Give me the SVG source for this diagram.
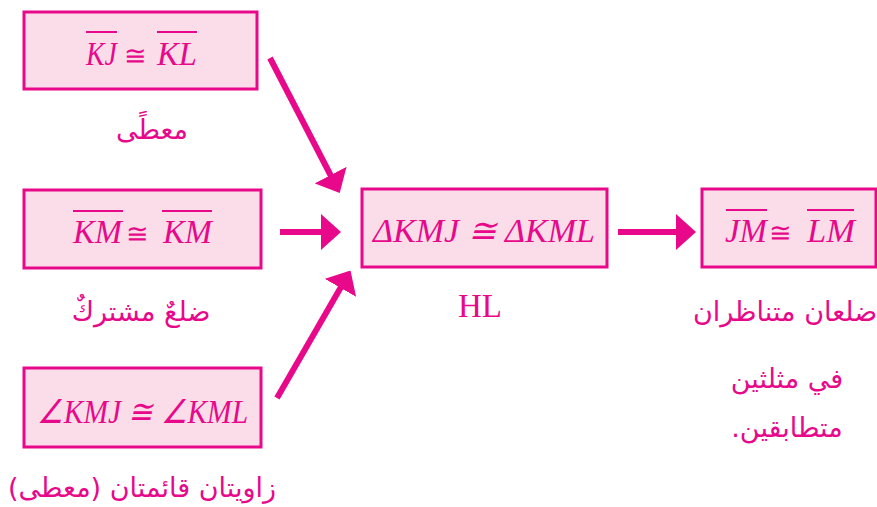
<svg xmlns="http://www.w3.org/2000/svg" width="877" height="507" viewBox="0 0 877 507">
<style>
.box{fill:#fbdde9;stroke:#e8088a;stroke-width:3}
.m{font-family:"Liberation Serif",serif;font-style:italic;font-size:33px;fill:#e8088a;text-anchor:middle}
.u{font-family:"Liberation Serif",serif;font-size:33px;fill:#e8088a;text-anchor:middle}
.eq{font-family:"DejaVu Serif",serif;font-size:27px;fill:#e8088a;text-anchor:middle}
.ar{font-family:"DejaVu Sans",sans-serif;font-size:27px;fill:#e8088a;text-anchor:middle}
.ov{stroke:#e8088a;stroke-width:2}
.c{stroke:#e8088a;stroke-width:6;fill:none}
</style>
<defs>
<marker id="ah" viewBox="0 -18 20 36" markerUnits="userSpaceOnUse" markerWidth="20" markerHeight="36" refX="1" refY="0" orient="auto">
<path d="M0,-18 L20,0 L0,18 Z" fill="#e8088a"/>
</marker>
</defs>
<rect width="877" height="507" fill="#ffffff"/>
<g id="connectors">
<line class="c" x1="270" y1="58" x2="331" y2="176" marker-end="url(#ah)"/>
<line class="c" x1="280" y1="232" x2="322" y2="232" marker-end="url(#ah)"/>
<line class="c" x1="277" y1="398" x2="341" y2="287" marker-end="url(#ah)"/>
<line class="c" x1="618" y1="232" x2="677" y2="232" marker-end="url(#ah)"/>
</g>
<g id="n1">
<rect class="box" x="24" y="12" width="233" height="77"/>
<text class="m" x="101.5" y="65" textLength="31" lengthAdjust="spacingAndGlyphs">KJ</text>
<text class="eq" x="135" y="65">≅</text>
<text class="m" x="177" y="65" textLength="40" lengthAdjust="spacingAndGlyphs">KL</text>
<line class="ov" x1="86" y1="32" x2="117" y2="32"/>
<line class="ov" x1="157" y1="32" x2="197" y2="32"/>
<text class="ar" x="152" y="139" direction="rtl">معطًى</text>
</g>
<g id="n2">
<rect class="box" x="24" y="190" width="237" height="78"/>
<text class="m" x="97.5" y="243" textLength="49" lengthAdjust="spacingAndGlyphs">KM</text>
<text class="eq" x="137" y="243">≅</text>
<text class="m" x="187.5" y="243" textLength="49" lengthAdjust="spacingAndGlyphs">KM</text>
<line class="ov" x1="73" y1="211" x2="123" y2="211"/>
<line class="ov" x1="162" y1="211" x2="212" y2="211"/>
<text class="ar" x="141" y="321" direction="rtl">ضلعٌ مشتركٌ</text>
</g>
<g id="n3">
<rect class="box" x="24" y="368" width="237" height="79"/>
<text class="m" x="142.5" y="423" textLength="211" lengthAdjust="spacingAndGlyphs">∠KMJ ≅ ∠KML</text>
<text class="ar" x="142" y="497" direction="rtl">زاويتان قائمتان (معطى)</text>
</g>
<g id="n4">
<rect class="box" x="362" y="189" width="245" height="78"/>
<text class="m" x="484" y="242" textLength="222" lengthAdjust="spacingAndGlyphs">ΔKMJ ≅ ΔKML</text>
<text class="u" x="480" y="317">HL</text>
</g>
<g id="n5">
<rect class="box" x="702" y="189" width="174" height="78"/>
<text class="m" x="746" y="242" textLength="42" lengthAdjust="spacingAndGlyphs">JM</text>
<text class="eq" x="780" y="242">≅</text>
<text class="m" x="831" y="242" textLength="48" lengthAdjust="spacingAndGlyphs">LM</text>
<line class="ov" x1="726" y1="210" x2="767" y2="210"/>
<line class="ov" x1="807" y1="210" x2="854" y2="210"/>
<text class="ar" x="785" y="321" direction="rtl">ضلعان متناظران</text>
<text class="ar" x="787" y="388" direction="rtl">في مثلثين</text>
<text class="ar" x="787" y="437" direction="rtl">متطابقين.</text>
</g>
</svg>
